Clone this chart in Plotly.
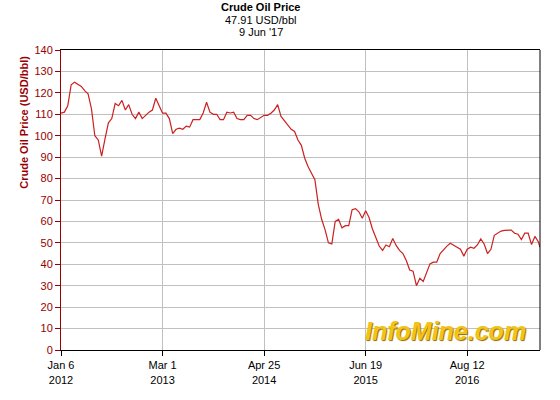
import plotly.graph_objects as go
import pandas as pd

# Precio del crudo (USD/bbl), lecturas quincenales desde el 6 ene 2012
precios = [
    110.5, 111, 114, 123.8, 125, 124, 123, 121, 119.5, 112.5,
    100, 98, 90.5, 98.5, 106, 108, 115, 114, 116.5, 112,
    114.5, 110, 108, 111, 108, 109.5, 111, 112, 117.5, 114,
    110.5, 110.5, 108, 101, 103, 103.5, 103, 104.5, 104, 107.5,
    107.5, 107.5, 110.6, 115.6, 111, 110, 110, 107.5, 107.5, 111,
    110.6, 111, 108, 107.5, 107.5, 109.5, 109.5, 108, 107.5, 108.5,
    109.5, 109.5, 110.5, 112, 114.5, 109, 107, 105.5, 103, 102,
    98, 95.5, 89.5, 85.5, 82.5, 79.5, 68, 61, 56.2, 50,
    49.5, 60, 61, 57, 58, 58, 65.5, 66, 64.5, 61.5,
    65, 61.8, 56.5, 52, 48.5, 46.5, 49, 48.2, 52, 48.8,
    46.5, 45, 41.8, 37.3, 36.8, 30, 33.5, 32, 36.5, 40.2,
    41, 41, 45, 47, 48.5, 49.8, 49, 48, 47, 43.8,
    47, 48, 47.5, 49, 51.8, 49.5, 45, 47, 53.5, 54.6,
    55.5, 55.8, 56, 56, 54.5, 54, 51.5, 54.5, 54.5, 49.2,
    53, 50.5,
]
ultimo_precio = 47.91
ultima_fecha = "2017-06-09"

fechas = list(pd.date_range("2012-01-06", periods=len(precios), freq="14D"))
fechas.append(pd.Timestamp(ultima_fecha))
valores = precios + [ultimo_precio]

ticks_x = ["2012-01-06", "2013-03-01", "2014-04-25", "2015-06-19", "2016-08-12"]
etiquetas_x = ["Jan 6<br>2012", "Mar 1<br>2013", "Apr 25<br>2014", "Jun 19<br>2015", "Aug 12<br>2016"]

rojo_oscuro = "#990000"
fuente = "Liberation Sans, Arial, sans-serif"

fig = go.Figure()
fig.add_trace(go.Scatter(x=fechas, y=valores, mode="lines",
                         line=dict(color="#cc1f1f", width=1.2),
                         showlegend=False, hoverinfo="x+y"))

fig.update_layout(
    width=560, height=400,
    margin=dict(l=61, r=20, t=50, b=50),
    paper_bgcolor="white", plot_bgcolor="white",
    font=dict(family=fuente, size=11, color="black"),
    xaxis=dict(range=["2012-01-06", ultima_fecha], tickvals=ticks_x, ticktext=etiquetas_x,
               showgrid=True, gridcolor="#c0c0c0", gridwidth=1,
               showline=True, linecolor="black", linewidth=1, mirror=True,
               ticks="outside", ticklen=5, tickcolor="black",
               tickfont=dict(size=11, color="black"), zeroline=False),
    yaxis=dict(range=[0, 140], dtick=10, tick0=0,
               showgrid=True, gridcolor="#c0c0c0", gridwidth=1,
               showline=True, linecolor=rojo_oscuro, linewidth=1,
               ticks="outside", ticklen=5, tickcolor=rojo_oscuro,
               tickfont=dict(size=11, color=rojo_oscuro), zeroline=False),
)

# Borde derecho negro
fig.add_shape(type="line", xref="paper", yref="paper", x0=1, x1=1, y0=0, y1=1,
              line=dict(color="black", width=1))

# Títulos
titulos = [("<b>Crude Oil Price</b>", 1.143), ("47.91 USD/bbl", 1.100), ("9 Jun '17", 1.060)]
for texto, yy in titulos:
    fig.add_annotation(text=texto, xref="paper", yref="paper", x=0.4175, y=yy,
                       showarrow=False, xanchor="center", yanchor="middle",
                       font=dict(family=fuente, size=11, color="black"))

fig.add_annotation(text="<b>Crude Oil Price (USD/bbl)</b>", xref="paper", yref="paper",
                   x=-0.079, y=0.758, textangle=-90, showarrow=False,
                   xanchor="center", yanchor="middle",
                   font=dict(family=fuente, size=11, color=rojo_oscuro))

# Marca de agua
fig.add_annotation(text="InfoMine.com", xref="paper", yref="paper", x=0.803, y=0.063,
                   showarrow=False, xanchor="center", yanchor="middle",
                   font=dict(family=fuente, size=25, color="#f2c318",
                             weight="bold", style="italic",
                             shadow="1px 1px 1px #8a6a00"))

# Quitar el margen del body para que el gráfico empiece en (0, 0)
fig.write_html("out.html", config={"displayModeBar": False},
               post_script="document.body.style.margin='0';")
